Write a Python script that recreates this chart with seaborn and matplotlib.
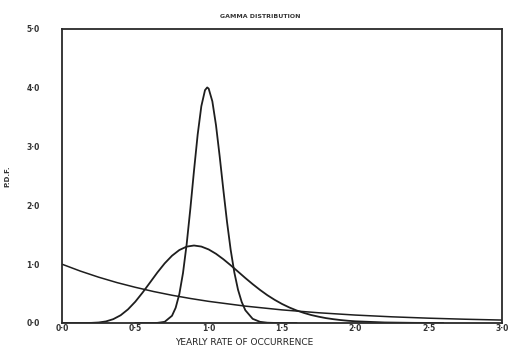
import numpy as np
import pandas as pd
from matplotlib import pyplot as plt
import seaborn

seaborn.set_style('white')
plt.rcParams['font.family'] = ['DejaVu Sans']

# values (gamma pdfs, mean 1)
x_shape1 = [0.0, 0.125, 0.25, 0.375, 0.5, 0.625, 0.75, 0.875, 1.0, 1.25, 1.5,
            1.75, 2.0, 2.25, 2.5, 2.75, 3.0]
y_shape1 = [1.0, 0.883, 0.779, 0.687, 0.607, 0.535, 0.472, 0.417, 0.368, 0.287,
            0.223, 0.174, 0.135, 0.105, 0.082, 0.064, 0.050]

x_shape10 = [0.0, 0.1, 0.15, 0.2, 0.25, 0.3, 0.35, 0.4, 0.45, 0.5, 0.55, 0.6,
             0.65, 0.7, 0.75, 0.8, 0.85, 0.9, 0.95, 1.0, 1.05, 1.1, 1.15, 1.2,
             1.25, 1.3, 1.35, 1.4, 1.45, 1.5, 1.55, 1.6, 1.65, 1.7, 1.75, 1.8,
             1.85, 1.9, 1.95, 2.0, 2.2, 2.4, 2.6]
y_shape10 = [0.0, 0.0, 0.0002, 0.002, 0.0086, 0.027, 0.066, 0.132, 0.232, 0.363,
             0.519, 0.688, 0.858, 1.014, 1.144, 1.241, 1.299, 1.318, 1.300,
             1.251, 1.177, 1.085, 0.982, 0.874, 0.765, 0.661, 0.563, 0.473,
             0.394, 0.324, 0.264, 0.213, 0.171, 0.135, 0.107, 0.083, 0.065,
             0.050, 0.038, 0.029, 0.009, 0.0025, 0.0]

x_shape100 = [0.5, 0.6, 0.65, 0.7, 0.75, 0.775, 0.8, 0.825, 0.85, 0.875, 0.9,
              0.925, 0.95, 0.975, 0.99, 1.0, 1.025, 1.05, 1.075, 1.1, 1.125,
              1.15, 1.175, 1.2, 1.225, 1.25, 1.3, 1.35, 1.4, 1.45, 1.5, 1.6]
y_shape100 = [0.0, 0.0001, 0.002, 0.020, 0.123, 0.259, 0.492, 0.850, 1.341,
              1.941, 2.591, 3.204, 3.687, 3.960, 4.006, 3.986, 3.771, 3.364,
              2.836, 2.267, 1.722, 1.245, 0.860, 0.567, 0.359, 0.217, 0.071,
              0.020, 0.005, 0.001, 0.0002, 0.0]

x_ticks = [0.0, 0.5, 1.0, 1.5, 2.0, 2.5, 3.0]
x_ticklabels = ['0·0', '0·5', '1·0', '1·5', '2·0', '2·5', '3·0']
y_ticks = [0.0, 1.0, 2.0, 3.0, 4.0, 5.0]
y_ticklabels = ['0·0', '1·0', '2·0', '3·0', '4·0', '5·0']

fig = plt.figure(figsize=(5.1, 3.47), dpi=100)
ax = fig.add_axes([62 / 510, 24 / 347, 440 / 510, 294 / 347])

curves = [(x_shape1, y_shape1, 1.1), (x_shape10, y_shape10, 1.3),
          (x_shape100, y_shape100, 1.3)]
for xs, ys, lw in curves:
    seaborn.lineplot(x=xs, y=ys, ax=ax, color='#1e1e1e', linewidth=lw,
                     estimator=None, sort=False)

ax.set_xlim(0, 3)
ax.set_ylim(0, 5)
ax.set_xticks(x_ticks)
ax.set_xticklabels(x_ticklabels, fontsize=5.5, fontweight='bold', color='#333')
ax.set_yticks(y_ticks)
ax.set_yticklabels(y_ticklabels, fontsize=5.5, fontweight='bold', color='#333')
ax.tick_params(axis='x', length=0, pad=1)
ax.tick_params(axis='y', length=0, pad=16)

for side in ax.spines.values():
    side.set_color('#2a2a2a')
    side.set_linewidth(1.3)

ax.set_xlabel('YEARLY RATE OF OCCURRENCE', fontsize=6.5, color='#222')
ax.xaxis.set_label_coords(0.414, -0.05)
ax.set_ylabel('P.D.F.', fontsize=5, fontweight='bold', color='#333')
ax.yaxis.set_label_coords(-0.118, 0.5)
ax.text(0.45, 1.035, 'GAMMA DISTRIBUTION', transform=ax.transAxes,
        ha='center', va='bottom', fontsize=4.5, fontweight='bold', color='#333')

plt.savefig('out.png', dpi=100)
